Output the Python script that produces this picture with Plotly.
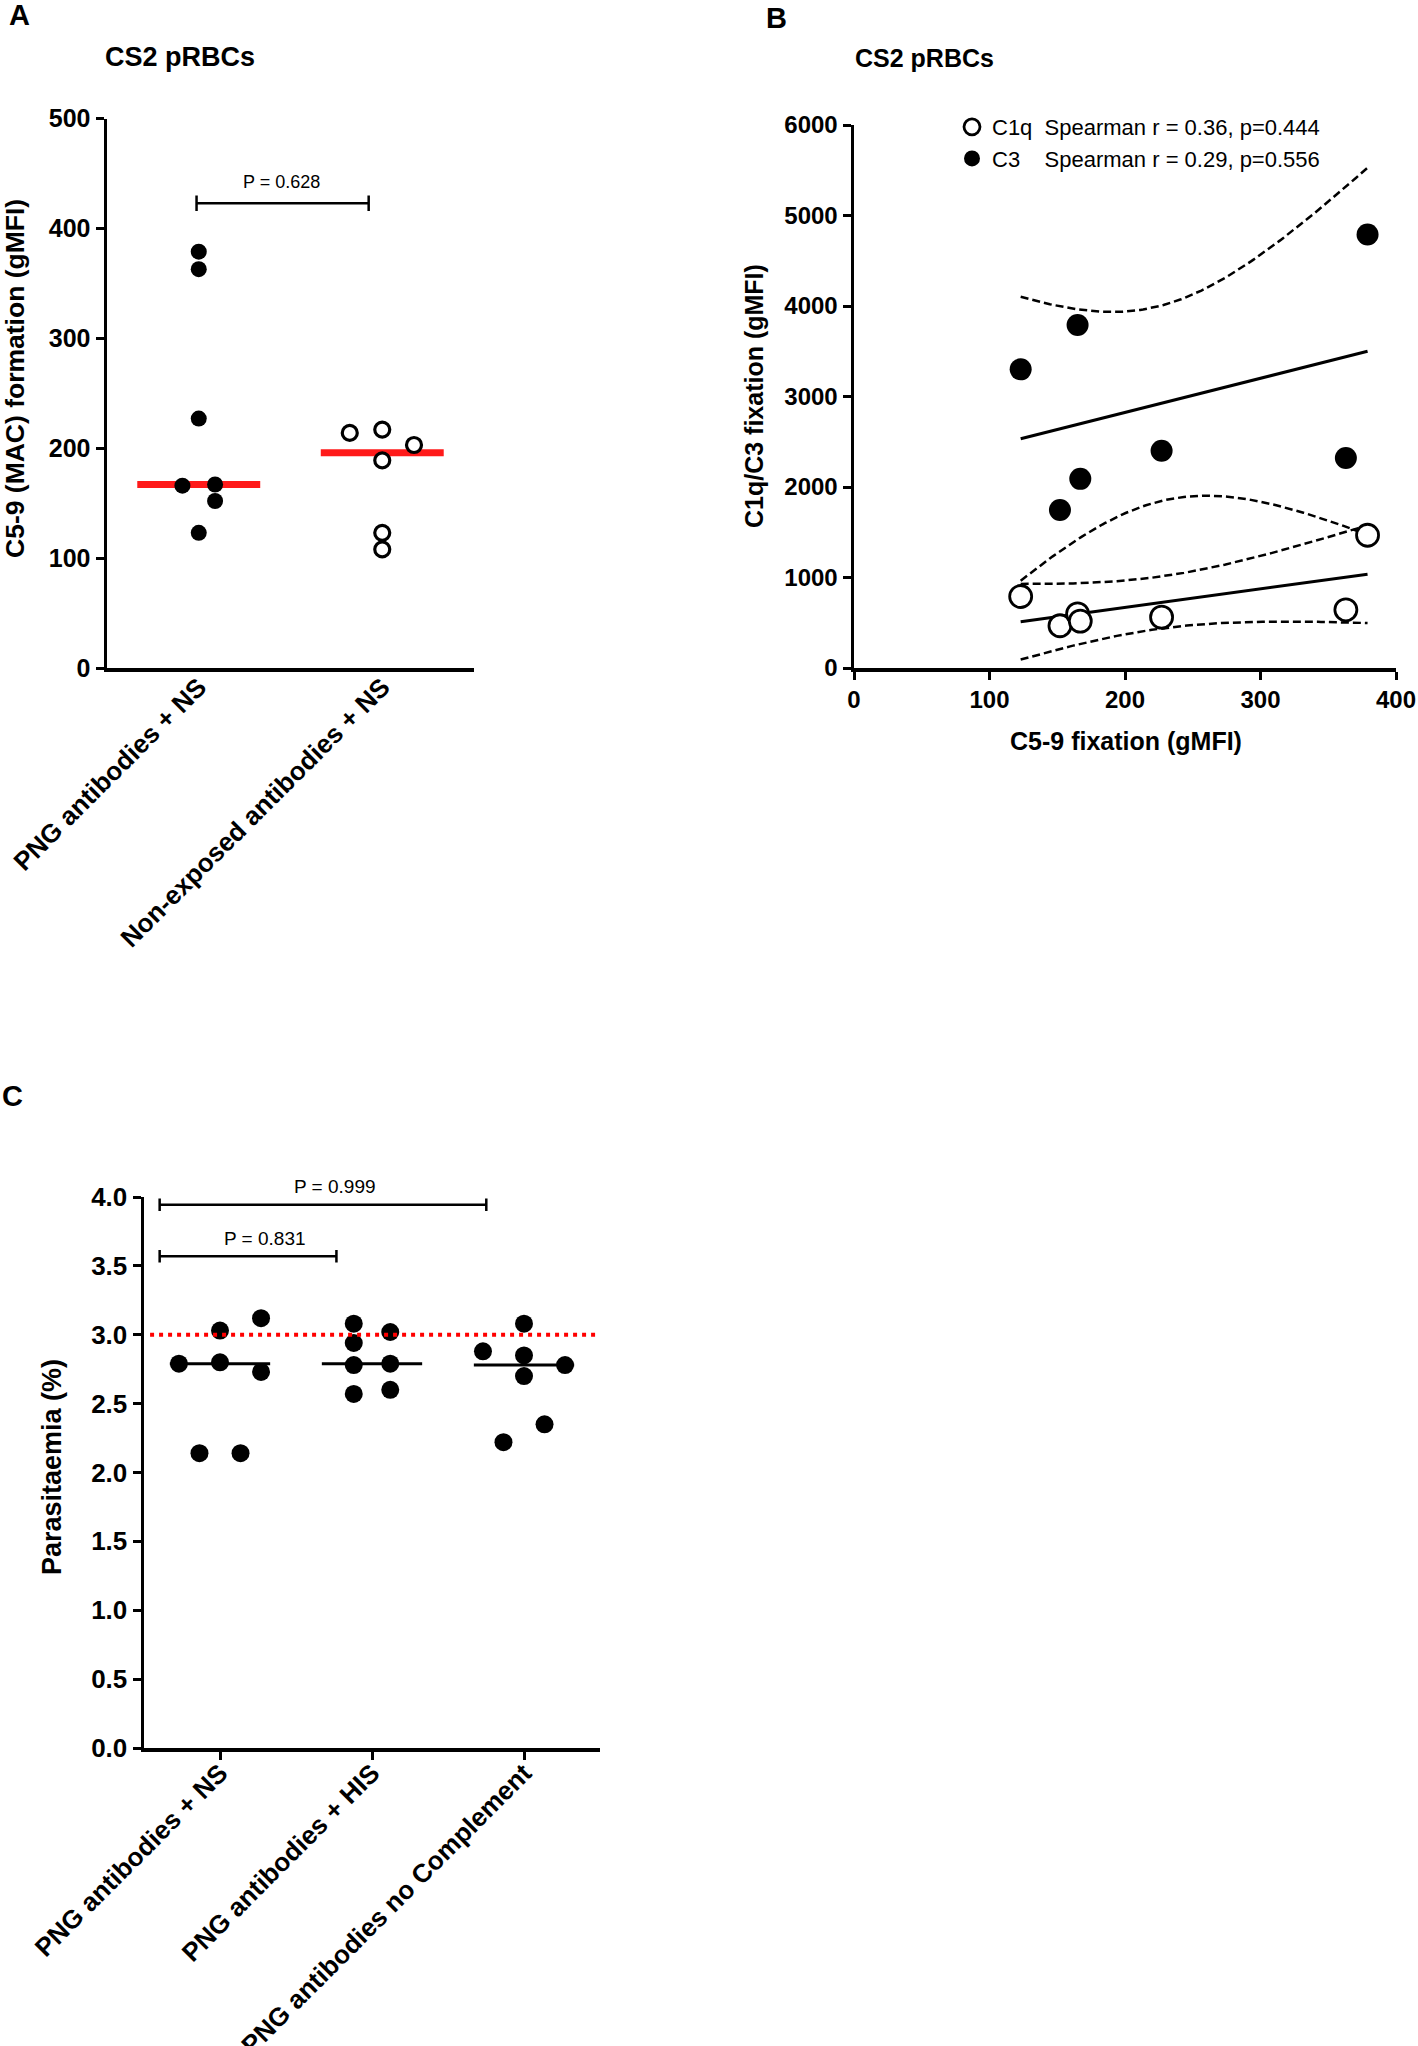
import numpy as np
import plotly.graph_objects as go

# ---------------- data ----------------
# Panel A: C5-9 (MAC) formation, CS2 pRBCs
a_categories = ["PNG antibodies + NS", "Non-exposed antibodies + NS"]
a_png_ns = [379, 363, 227, 166, 167, 152, 123]
a_nonexp_ns = [214, 217, 203, 189, 123, 108]
a_p_text = "P = 0.628"
a_yticks = [0, 100, 200, 300, 400, 500]

# Panel B: C1q / C3 fixation vs C5-9 fixation
b_c59 = [123, 152, 165, 167, 227, 363, 379]
b_c1q = [790, 467, 599, 518, 562, 643, 1467]
b_c3 = [3300, 1745, 3790, 2090, 2400, 2320, 4790]
b_labels = ["C1q\u00a0\u00a0Spearman r = 0.36, p=0.444",
            "C3\u00a0\u00a0\u00a0\u00a0Spearman r = 0.29, p=0.556"]
b_xticks = [0, 100, 200, 300, 400]
b_yticks = [0, 1000, 2000, 3000, 4000, 5000, 6000]

# Panel C: parasitaemia
c_categories = ["PNG antibodies + NS", "PNG antibodies + HIS", "PNG antibodies no Complement"]
c_ns = [2.79, 3.03, 2.80, 3.12, 2.73, 2.14, 2.14]
c_his = [3.08, 2.94, 2.78, 2.57, 3.02, 2.79, 2.60]
c_nocomp = [2.88, 3.08, 2.85, 2.70, 2.78, 2.22, 2.35]
c_reference = 3.0
c_p_texts = ["P = 0.831", "P = 0.999"]
c_yticks = [0.0, 0.5, 1.0, 1.5, 2.0, 2.5, 3.0, 3.5, 4.0]

# ---------------- layout helpers (positions only) ----------------
Wf, Hf = 1418, 2046
def px(x):
    return x / Wf
def py(y):
    return 1 - y / Hf

# pixel frames of each panel: (x_left, x_right, y_bottom, y_top) and ranges
A_FRAME = (107, 474, 668, 118.7); A_XR = (-0.5, 1.5); A_YR = (0, 500)
B_FRAME = (854, 1396, 668, 125); B_XR = (0, 400); B_YR = (0, 6000)
C_FRAME = (144, 600, 1748, 1197); C_XR = (-0.5, 2.5); C_YR = (0, 4)

def to_paper(frame, xr, yr, x, y):
    xl, xrp, yb, yt = frame
    X = xl + (x - xr[0]) / (xr[1] - xr[0]) * (xrp - xl)
    Y = yb - (y - yr[0]) / (yr[1] - yr[0]) * (yb - yt)
    return px(X), py(Y)

a_jitter = [[0, 0, 0, -0.089, 0.089, 0.089, 0], [-0.177, 0, 0.173, 0, 0, 0]]
c_jitter = [[-0.27, 0, 0, 0.27, 0.27, -0.135, 0.135],
            [-0.12, -0.12, -0.12, -0.12, 0.12, 0.12, 0.12],
            [-0.27, 0, 0, 0, 0.27, -0.135, 0.135]]

FONT = "Liberation Sans, Arial, sans-serif"

fig = go.Figure()

# ---------------- Panel A ----------------
for gi, (vals, filled) in enumerate([(a_png_ns, True), (a_nonexp_ns, False)]):
    xs = [gi + j for j in a_jitter[gi]]
    med = float(np.median(vals))
    fig.add_trace(go.Scatter(x=[gi - 0.335, gi + 0.335], y=[med, med], mode="lines",
                             line=dict(color="#ff1a1a", width=7), showlegend=False,
                             xaxis="x", yaxis="y"))
    fig.add_trace(go.Scatter(x=xs, y=vals, mode="markers", showlegend=False,
                             marker=dict(size=16 if filled else 15, symbol="circle",
                                         color="black" if filled else "white",
                                         line=dict(color="black", width=0 if filled else 3.2)),
                             xaxis="x", yaxis="y"))

a_br_y = 423
fig.add_trace(go.Scatter(x=[-0.012, -0.012, -0.012, 0.926, 0.926, 0.926],
                         y=[a_br_y - 7, a_br_y + 7, a_br_y, a_br_y, a_br_y + 7, a_br_y - 7],
                         mode="lines", line=dict(color="black", width=2.5),
                         showlegend=False, xaxis="x", yaxis="y"))

# ---------------- Panel B ----------------
def reg_band(x, y, n=120):
    x = np.asarray(x, float)
    y = np.asarray(y, float)
    slope, intercept = np.polyfit(x, y, 1)
    xs = np.linspace(x.min(), x.max(), n)
    yhat = intercept + slope * xs
    resid = y - (intercept + slope * x)
    s = np.sqrt(np.sum(resid ** 2) / (len(x) - 2))
    se = s * np.sqrt(1 / len(x) + (xs - x.mean()) ** 2 / np.sum((x - x.mean()) ** 2))
    t = 2.5706  # t(0.975, df=5)
    return xs, yhat, yhat - t * se, yhat + t * se

for yv in (b_c3, b_c1q):
    xs, yhat, lo, hi = reg_band(b_c59, yv)
    fig.add_trace(go.Scatter(x=xs, y=yhat, mode="lines", line=dict(color="black", width=3),
                             showlegend=False, xaxis="x2", yaxis="y2"))
    for band in (lo, hi):
        fig.add_trace(go.Scatter(x=xs, y=band, mode="lines",
                                 line=dict(color="black", width=2.5, dash="8px,4px"),
                                 showlegend=False, xaxis="x2", yaxis="y2"))

fig.add_trace(go.Scatter(x=b_c59, y=b_c1q, mode="markers", name=b_labels[0],
                         marker=dict(size=22, color="white", line=dict(color="black", width=2.8)),
                         xaxis="x2", yaxis="y2"))
fig.add_trace(go.Scatter(x=b_c59, y=b_c3, mode="markers", name=b_labels[1],
                         marker=dict(size=22, color="black", line=dict(width=0)),
                         xaxis="x2", yaxis="y2"))

# ---------------- Panel C ----------------
for gi, vals in enumerate([c_ns, c_his, c_nocomp]):
    xs = [gi + j for j in c_jitter[gi]]
    med = float(np.median(vals))
    fig.add_trace(go.Scatter(x=[gi - 0.33, gi + 0.33], y=[med, med], mode="lines",
                             line=dict(color="black", width=3), showlegend=False,
                             xaxis="x3", yaxis="y3"))
    fig.add_trace(go.Scatter(x=xs, y=vals, mode="markers", showlegend=False,
                             marker=dict(size=18, color="black", line=dict(width=0)),
                             xaxis="x3", yaxis="y3"))

c_brackets = [(-0.397, 0.766, 3.57), (-0.397, 1.752, 3.944)]
for x0, x1, yb in c_brackets:
    fig.add_trace(go.Scatter(x=[x0, x0, x0, x1, x1, x1],
                             y=[yb - 0.045, yb + 0.045, yb, yb, yb + 0.045, yb - 0.045],
                             mode="lines", line=dict(color="black", width=2.5),
                             showlegend=False, cliponaxis=False, xaxis="x3", yaxis="y3"))

fig.add_shape(type="line", xref="x3", yref="y3", x0=-0.46, x1=2.5,
              y0=c_reference, y1=c_reference,
              line=dict(color="#ff0000", width=4, dash="4px,5px"))

# ---------------- axes ----------------
axis_common = dict(showgrid=False, zeroline=False, showline=True, linecolor="black",
                   linewidth=3.5, ticks="outside", tickcolor="black", tickwidth=3, ticklen=8,
                   automargin=False, fixedrange=True, ticklabeloverflow="allow")

def tf(size):
    return dict(family=FONT, size=size, color="black", weight="bold")

fig.update_layout(
    width=Wf, height=Hf, margin=dict(l=0, r=0, t=0, b=0, autoexpand=False),
    paper_bgcolor="white", plot_bgcolor="white",
    xaxis=dict(**{**axis_common, "ticks": ""}, domain=[px(A_FRAME[0]), px(A_FRAME[1])], anchor="y",
               range=list(A_XR), tickvals=[0, 1], ticktext=a_categories, tickangle=-45,
               tickfont=tf(26), ticklabelstandoff=-10),
    yaxis=dict(**axis_common, domain=[py(A_FRAME[2]), py(A_FRAME[3])], anchor="x",
               range=list(A_YR), tickvals=a_yticks, tickfont=tf(25)),
    xaxis2=dict(**axis_common, domain=[px(B_FRAME[0]), px(B_FRAME[1])], anchor="y2",
                range=list(B_XR), tickvals=b_xticks, tickfont=tf(24)),
    yaxis2=dict(**axis_common, domain=[py(B_FRAME[2]), py(B_FRAME[3])], anchor="x2",
                range=list(B_YR), tickvals=b_yticks, tickfont=tf(24)),
    xaxis3=dict(**axis_common, domain=[px(C_FRAME[0]), px(C_FRAME[1])], anchor="y3",
                range=list(C_XR), tickvals=[0, 1, 2], ticktext=c_categories, tickangle=-45,
                tickfont=tf(26), ticklabelstandoff=-12),
    yaxis3=dict(**axis_common, domain=[py(C_FRAME[2]), py(C_FRAME[3])], anchor="x3",
                range=list(C_YR), tickvals=c_yticks, tickformat=".1f", tickfont=tf(26)),
    legend=dict(x=px(952), y=py(106), xanchor="left", yanchor="top",
                font=dict(family=FONT, size=22, color="black"),
                bgcolor="rgba(0,0,0,0)", tracegroupgap=0, itemwidth=30),
    showlegend=True,
)

def ann(text, x, y, size, bold=True, angle=0, xanchor="center", yanchor="middle"):
    fig.add_annotation(text=text, x=x, y=y, xref="paper", yref="paper", showarrow=False,
                       textangle=angle, xanchor=xanchor, yanchor=yanchor,
                       font=dict(family=FONT, size=size, color="black",
                                 weight="bold" if bold else "normal"))

# panel letters
ann("A", px(19), py(15), 29)
ann("B", px(776), py(18), 29)
ann("C", px(12), py(1096), 29)

# titles
ann("CS2 pRBCs", px(180), py(57), 27)
ann("CS2 pRBCs", px(924), py(58), 25)

# axis titles
ann("C5-9 (MAC) formation (gMFI)", px(15), py(379), 26.5, angle=-90)
ann("C1q/C3 fixation (gMFI)", px(754), py(396), 25, angle=-90)
ann("C5-9 fixation (gMFI)", px(1126), py(741), 25)
ann("Parasitaemia (%)", px(52), py(1467), 27, angle=-90)

# P values (placed in data space, converted to paper)
xa, ya = to_paper(A_FRAME, A_XR, A_YR, 0.4526, 442)
ann(a_p_text, xa, ya, 18, bold=False)
xc1, yc1 = to_paper(C_FRAME, C_XR, C_YR, 0.295, 3.70)
ann(c_p_texts[0], xc1, yc1, 19, bold=False)
xc2, yc2 = to_paper(C_FRAME, C_XR, C_YR, 0.758, 4.077)
ann(c_p_texts[1], xc2, yc2, 19, bold=False)

fig.write_html("out.html",
               config={"displayModeBar": False, "staticPlot": True},
               post_script="document.body.style.margin='0px';document.body.style.overflow='hidden';")
